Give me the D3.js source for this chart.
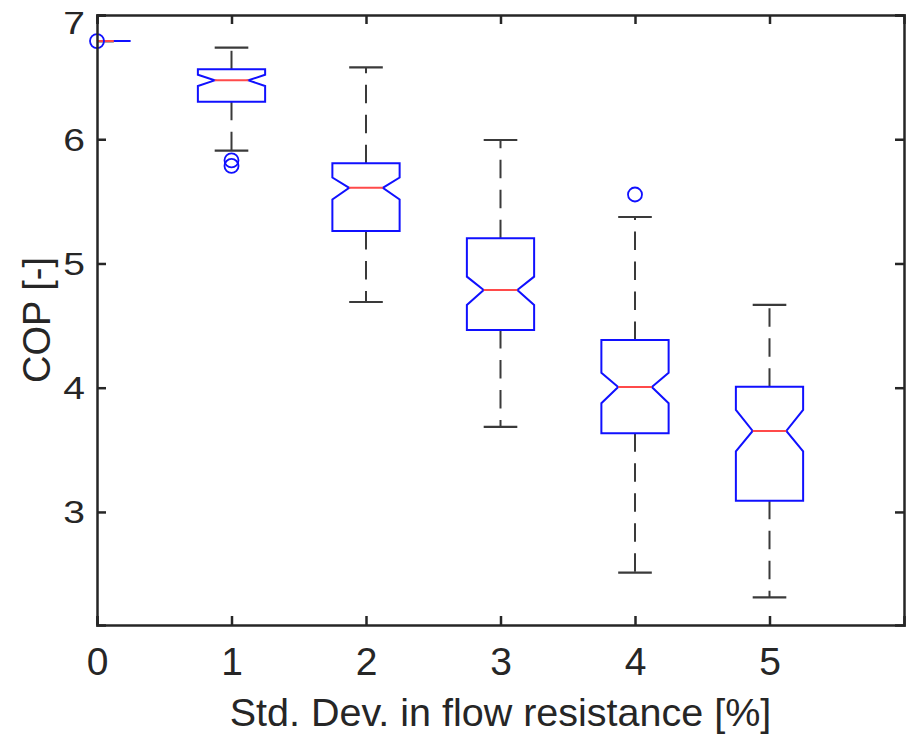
<!DOCTYPE html>
<html>
<head>
<meta charset="utf-8">
<script src="https://cdn.jsdelivr.net/npm/d3@7"></script>
<style>
  html, body { margin: 0; padding: 0; background: #fff; }
  svg { display: block; }
  text { font-family: "Liberation Sans", Arial, sans-serif; fill: #262626; }
</style>
</head>
<body>
<svg id="chart" width="909" height="735"></svg>
<script>
// COP distributions per standard deviation in flow resistance
const groups      = [0, 1, 2, 3, 4, 5];
const whiskerLow  = [6.79, 5.908, 4.690, 3.684, 2.511, 2.313];
const q1          = [6.79, 6.302, 5.262, 4.465, 3.634, 3.091];
const notchLow    = [6.79, 6.429, 5.515, 4.666, 3.875, 3.488];
const median      = [6.79, 6.474, 5.609, 4.787, 4.006, 3.652];
const notchHigh   = [6.79, 6.519, 5.692, 4.894, 4.121, 3.821];
const q3          = [6.79, 6.563, 5.806, 5.203, 4.384, 4.008];
const whiskerHigh = [6.79, 6.737, 6.579, 5.994, 5.374, 4.666];
const outliers    = [[6.79], [5.83, 5.785], [], [], [5.555], []];

const xTicks = [0, 1, 2, 3, 4, 5];
const yTicks = [3, 4, 5, 6, 7];
const xLabel = "Std. Dev. in flow resistance [%]";
const yLabel = "COP [-]";

const boxes = groups.map((g, i) => ({
  g, lo: whiskerLow[i], q1: q1[i], nLo: notchLow[i], med: median[i],
  nHi: notchHigh[i], q3: q3[i], hi: whiskerHigh[i], out: outliers[i]
}));

const m = { left: 97, top: 15, right: 5, bottom: 110 };
const W = 909, H = 735;
const svg = d3.select("#chart");

const x = d3.scaleLinear().domain([0, 6]).range([m.left, W - m.right]);
const y = d3.scaleLinear().domain([2.09, 7]).range([H - m.bottom, m.top]);

const boxHalf = 0.25, notchHalf = 0.125, capHalf = 0.125;

svg.append("defs").append("clipPath").attr("id", "plotClip")
  .append("rect")
  .attr("x", x(0)).attr("y", y(7))
  .attr("width", x(6) - x(0)).attr("height", y(2.09) - y(7));

const plot = svg.append("g").attr("clip-path", "url(#plotClip)");

const item = plot.selectAll("g.box").data(boxes).join("g").attr("class", "box");

// dashed whiskers, drawn outward from the box edges
const whiskerColor = "#3a3a3a";
item.append("line")
  .attr("x1", d => x(d.g)).attr("x2", d => x(d.g))
  .attr("y1", d => y(d.q3)).attr("y2", d => y(d.hi))
  .attr("stroke", whiskerColor).attr("stroke-width", 2).attr("stroke-dasharray", "18.5,11.5");
item.append("line")
  .attr("x1", d => x(d.g)).attr("x2", d => x(d.g))
  .attr("y1", d => y(d.q1)).attr("y2", d => y(d.lo))
  .attr("stroke", whiskerColor).attr("stroke-width", 2).attr("stroke-dasharray", "18.5,11.5");

// whisker caps
["hi", "lo"].forEach(k => {
  item.append("line")
    .attr("x1", d => x(d.g - capHalf)).attr("x2", d => x(d.g + capHalf))
    .attr("y1", d => y(d[k])).attr("y2", d => y(d[k]))
    .attr("stroke", whiskerColor).attr("stroke-width", 2.2);
});

// notched box outline
item.append("path")
  .attr("d", d => {
    const p = d3.path();
    p.moveTo(x(d.g - boxHalf), y(d.q1));
    p.lineTo(x(d.g - boxHalf), y(d.nLo));
    p.lineTo(x(d.g - notchHalf), y(d.med));
    p.lineTo(x(d.g - boxHalf), y(d.nHi));
    p.lineTo(x(d.g - boxHalf), y(d.q3));
    p.lineTo(x(d.g + boxHalf), y(d.q3));
    p.lineTo(x(d.g + boxHalf), y(d.nHi));
    p.lineTo(x(d.g + notchHalf), y(d.med));
    p.lineTo(x(d.g + boxHalf), y(d.nLo));
    p.lineTo(x(d.g + boxHalf), y(d.q1));
    p.closePath();
    return p.toString();
  })
  .attr("fill", "none").attr("stroke", "#1010ff").attr("stroke-width", 2)
  .attr("stroke-linejoin", "miter");

// median
item.append("line")
  .attr("x1", d => x(d.g - notchHalf)).attr("x2", d => x(d.g + notchHalf))
  .attr("y1", d => y(d.med)).attr("y2", d => y(d.med))
  .attr("stroke", "#ff4a4a").attr("stroke-width", 2);

// outliers (markers are not clipped)
const outPts = boxes.flatMap(d => d.out.map(v => ({ g: d.g, v })));
svg.append("g").selectAll("circle").data(outPts).join("circle")
  .attr("cx", d => x(d.g)).attr("cy", d => y(d.v)).attr("r", 7)
  .attr("fill", "none").attr("stroke", "#1010ff").attr("stroke-width", 1.8);

// axes box with inward ticks
const axisColor = "#262626";
const tickLen = 9;
const gx = svg.append("g").attr("transform", `translate(0,${y(2.09)})`)
  .call(d3.axisBottom(x).tickValues(xTicks).tickSize(-tickLen).tickFormat(d3.format("d")));
const gxTop = svg.append("g").attr("transform", `translate(0,${y(7)})`)
  .call(d3.axisTop(x).tickValues(xTicks).tickSize(-tickLen).tickFormat(""));
const gy = svg.append("g").attr("transform", `translate(${x(0)},0)`)
  .call(d3.axisLeft(y).tickValues(yTicks).tickSize(-tickLen).tickFormat(d3.format("d")));
const gyRight = svg.append("g").attr("transform", `translate(${x(6)},0)`)
  .call(d3.axisRight(y).tickValues(yTicks).tickSize(-tickLen).tickFormat(""));

[gx, gxTop, gy, gyRight].forEach(g => {
  g.select(".domain").attr("stroke", axisColor).attr("stroke-width", 2.5);
  g.selectAll(".tick line").attr("stroke", axisColor).attr("stroke-width", 2.5);
});

gx.selectAll(".tick text")
  .attr("y", 0).attr("dy", null)
  .attr("transform", "translate(0,50)")
  .attr("font-size", 39).attr("fill", "#262626");

// the top label sits a little lower so it stays inside the figure
gy.selectAll(".tick text")
  .attr("x", 0).attr("dy", null)
  .attr("text-anchor", "end")
  .attr("dominant-baseline", "central")
  .attr("transform", d => `translate(-12,${d === 7 ? 7 : 0}) scale(1,0.8)`)
  .attr("font-size", 39).attr("fill", "#262626");

svg.append("text")
  .attr("x", (x(0) + x(6)) / 2).attr("y", 726)
  .attr("text-anchor", "middle").attr("font-size", 39.5)
  .text(xLabel);

svg.append("text")
  .attr("transform", `translate(50,${(y(7) + y(2.09)) / 2}) rotate(-90)`)
  .attr("text-anchor", "middle").attr("font-size", 38)
  .text(yLabel);
</script>
</body>
</html>
